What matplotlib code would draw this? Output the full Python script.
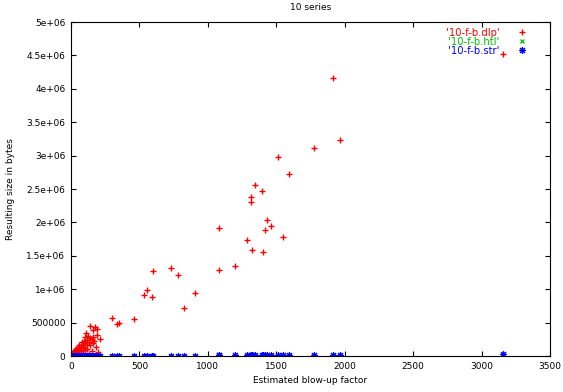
import numpy as np
import matplotlib
matplotlib.use("Agg")
import matplotlib.pyplot as plt
from matplotlib.ticker import FuncFormatter

# blow-up factor vs resulting size, three output formats
blowup = [1914, 1962, 1775, 1512, 1590, 1342, 1395, 1315, 1317, 1432,
          1459, 1419, 1546, 1079, 1283, 1320, 1402, 597, 728, 784,
          1083, 553, 536, 592, 906, 823, 297, 458, 338, 353,
          1198, 3157,
          139, 175, 192, 160, 110, 192, 163, 125, 140, 100,
          150, 120, 95, 170, 80, 130, 105, 85, 160, 60,
          115, 75, 140, 50, 95, 65, 180, 40, 85, 120,
          30, 55, 100, 20, 45, 70, 150, 15, 35, 60,
          10, 25, 90, 5, 40, 130, 200, 212]
size_dlp = [4.16e6, 3.23e6, 3.11e6, 2.98e6, 2.73e6, 2.56e6, 2.47e6, 2.38e6, 2.31e6, 2.03e6,
            1.95e6, 1.89e6, 1.78e6, 1.92e6, 1.74e6, 1.59e6, 1.56e6, 1.27e6, 1.32e6, 1.22e6,
            1.29e6, 0.99e6, 0.91e6, 0.89e6, 0.94e6, 0.72e6, 0.57e6, 0.56e6, 0.48e6, 0.50e6,
            1.35e6, 4.52e6,
            450000, 440000, 410000, 395000, 340000, 310000, 290000, 300000, 270000, 280000,
            250000, 240000, 230000, 225000, 210000, 205000, 195000, 185000, 190000, 170000,
            165000, 155000, 160000, 140000, 140000, 125000, 130000, 110000, 115000, 110000,
            90000, 95000, 90000, 70000, 75000, 70000, 80000, 50000, 55000, 45000,
            30000, 35000, 40000, 15000, 20000, 30000, 60000, 250000]
size_htl = [9000, 9500, 8000, 7000, 7500, 6000, 6500, 6000, 6000, 7000,
            7000, 6500, 7500, 5000, 6000, 6000, 6500, 3000, 3500, 4000,
            5000, 2500, 2500, 3000, 4000, 4000, 1500, 2000, 1500, 1500,
            5500, 15000,
            800, 900, 900, 800, 600, 900, 800, 600, 700, 500,
            700, 600, 500, 800, 400, 600, 500, 400, 800, 300,
            600, 400, 700, 300, 500, 300, 900, 200, 400, 600,
            150, 300, 500, 100, 200, 300, 700, 80, 150, 300,
            50, 100, 400, 30, 200, 600, 1000, 1000]
size_str = [14000, 14500, 13000, 11000, 11500, 9500, 10000, 9500, 9500, 10500,
            10500, 10000, 11500, 8000, 9000, 9500, 10000, 4500, 5500, 6000,
            8000, 4000, 4000, 4500, 7000, 6000, 2500, 3500, 2500, 2700,
            9000, 23000,
            1200, 1400, 1500, 1300, 900, 1500, 1300, 1000, 1100, 800,
            1200, 900, 700, 1300, 600, 1000, 800, 700, 1300, 500,
            900, 600, 1100, 400, 700, 500, 1400, 300, 700, 900,
            250, 400, 800, 150, 350, 550, 1200, 120, 280, 450,
            80, 200, 700, 40, 300, 1000, 1600, 1700]

plt.rcParams["font.family"] = ["DejaVu Sans"]
plt.rcParams["font.size"] = 6.5

fig = plt.figure(figsize=(5.63, 3.92), dpi=100)
ax = fig.add_axes([0.1261, 0.0918, 0.8508, 0.852])

ax.plot(blowup, size_dlp, linestyle="none", marker="+", color="#ff0000",
        markersize=5, markeredgewidth=1.0, label="'10-f-b.dlp'")
ax.plot(blowup, size_htl, linestyle="none", marker="x", color="#00c000",
        markersize=3.5, markeredgewidth=0.9, label="'10-f-b.htl'")
ax.plot(blowup, size_str, linestyle="none", marker=(8, 2, 0), color="#0000ff",
        markersize=5, markeredgewidth=0.8, label="'10-f-b.str'")

ax.set_xlim(0, 3500)
ax.set_ylim(0, 5e6)
ax.set_xticks(np.arange(0, 3501, 500))
ax.set_yticks(np.arange(0, 5.0e6 + 1, 5e5))
ax.yaxis.set_major_formatter(FuncFormatter(lambda v, p: "%g" % v))
ax.tick_params(direction="in", top=True, right=True, length=3.5, width=0.8, pad=4)
for s in ax.spines.values():
    s.set_linewidth(0.8)

ax.set_title("10 series", pad=9, fontsize=6.5)
ax.set_xlabel("Estimated blow-up factor", labelpad=4)
ax.set_ylabel("Resulting size in bytes", labelpad=8)

leg = ax.legend(loc="upper right", frameon=False, markerfirst=False, fontsize=7.2,
                handlelength=1.2, handletextpad=1.6, labelspacing=-0.1,
                borderaxespad=0.15, bbox_to_anchor=(0.965, 1.0))
for txt, c in zip(leg.get_texts(), ["#ff0000", "#00c000", "#0000ff"]):
    txt.set_color(c)

fig.savefig("out.png", dpi=100)
